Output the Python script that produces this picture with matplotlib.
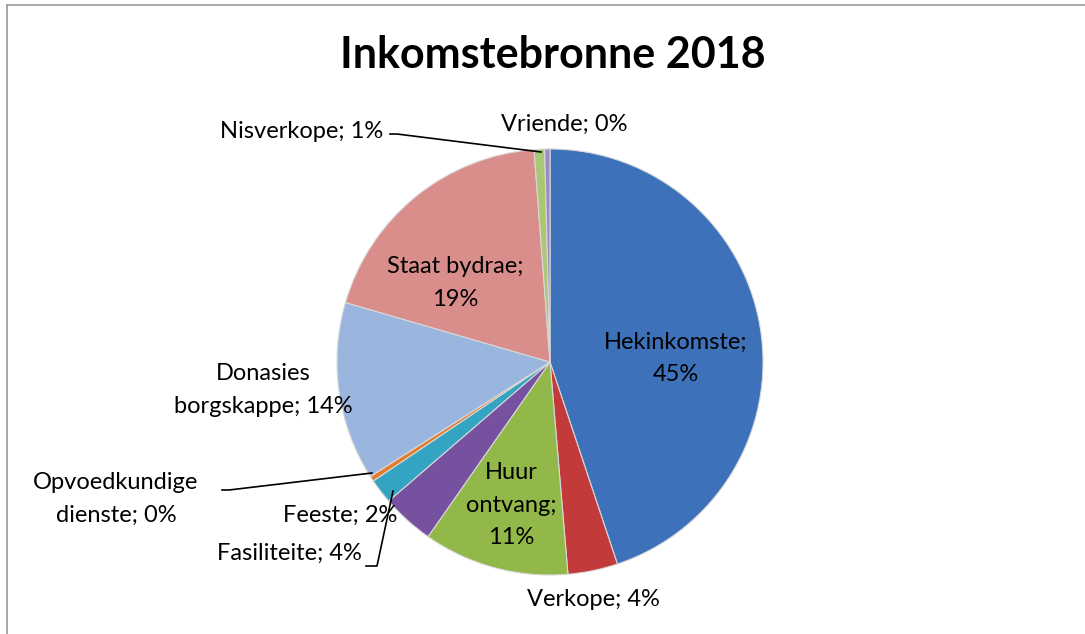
import numpy as np
import matplotlib.pyplot as plt

plt.rcParams['font.family'] = ['Lato', 'DejaVu Sans']

categories = ['Hekinkomste', 'Verkope', 'Huur\nontvang', 'Fasiliteite', 'Feeste',
              'Opvoedkundige\ndienste', 'Donasies\nborgskappe', 'Staat bydrae',
              'Nisverkope', 'Vriende']
values = [45.1, 3.8, 11.1, 4.0, 1.9, 0.4, 13.6, 19.4, 0.8, 0.4]
pct_labels = ['45%', '4%', '11%', '4%', '2%', '0%', '14%', '19%', '1%', '0%']
colors = ['#3D72BB', '#C23A3A', '#92B84A', '#7651A0', '#33A5C3',
          '#E57C2C', '#9BB6DE', '#D98E8C', '#A8C873', '#9A8BC0']

W, H = 1085, 634
fig = plt.figure(figsize=(W / 100, H / 100), dpi=100)
ax = fig.add_axes([0, 0, 1, 1])

cx, cy, r = 550, 362, 213
wedges, _ = ax.pie(values, colors=colors, startangle=90, counterclock=False,
                   center=(cx, -cy), radius=r,
                   wedgeprops=dict(edgecolor='#d8d8d8', linewidth=0.8))
# work in pixel units: x to the right, -y from the top
ax.set_aspect('auto')
ax.set_xlim(0, W)
ax.set_ylim(-H, 0)
ax.axis('off')

# chart frame (top and left visible)
ax.plot([7, 7], [-H, -5], color='#9a9a9a', lw=1.2)
ax.plot([7, W], [-5, -5], color='#9a9a9a', lw=1.2)

ax.text(553, -55, 'Inkomstebronne 2018', ha='center', va='center',
        fontsize=31, fontweight='bold', color='black')

fs = 17
# label positions in pixel coords (x, y from top)
pos = {
    0: (676, 358),
    1: (593, 600),
    2: (511, 505),
    3: (289, 553),
    4: (340, 515),
    5: (116, 499),
    6: (263, 390),
    7: (455, 283),
    8: (302, 131),
    9: (564, 124),
}
for i, (x, y) in pos.items():
    name = categories[i]
    if i in (0, 2, 7):
        txt = name + ';\n' + pct_labels[i]
    else:
        txt = name + '; ' + pct_labels[i]
    ax.text(x, -y, txt, ha='center', va='center', fontsize=fs, color='black',
            linespacing=1.65)

# leader lines
ax.plot([390, 397, 541], [-134, -134, -152], color='black', lw=1.2)
ax.plot([222, 229, 372], [-490, -490, -473], color='black', lw=1.2)
ax.plot([366, 377, 393], [-566, -566, -491], color='black', lw=1.2)

fig.savefig('out.png', dpi=100, facecolor='white')
